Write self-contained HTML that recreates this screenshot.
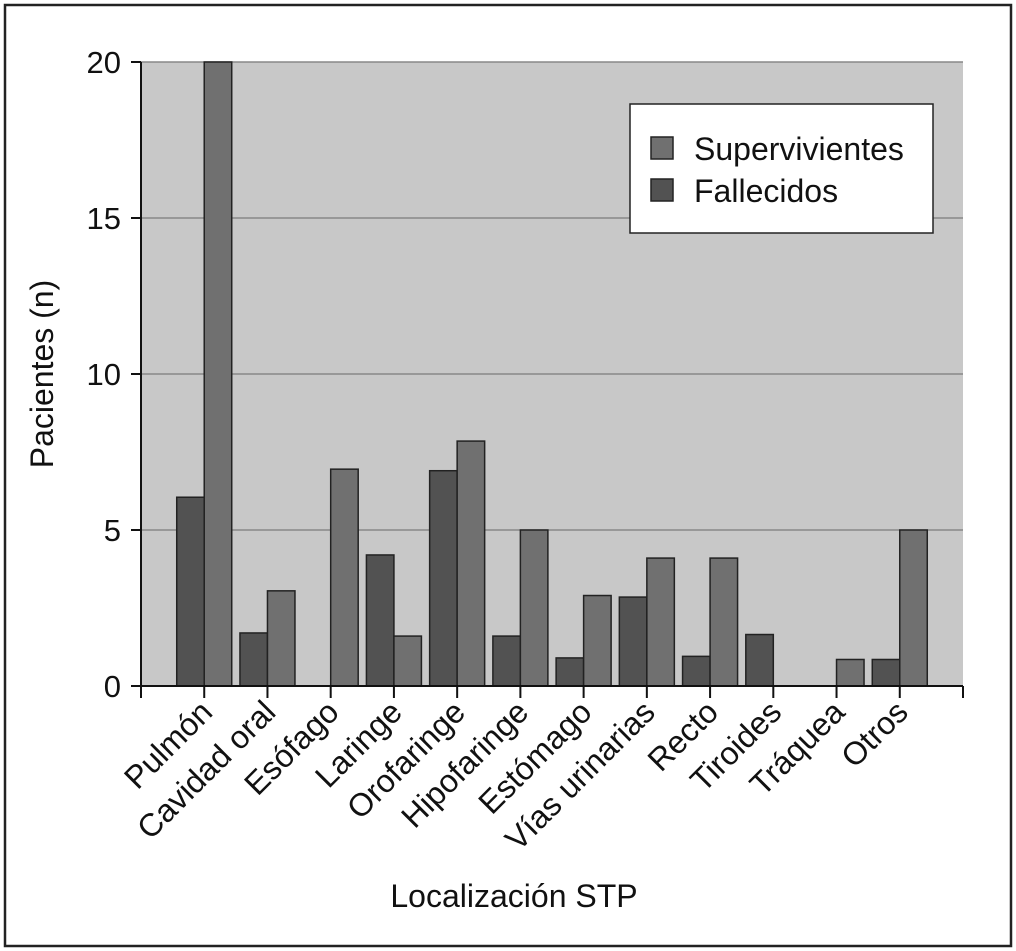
<!DOCTYPE html>
<html><head><meta charset="utf-8"><style>
html,body{margin:0;padding:0;background:#fff;}
svg{display:block;font-family:"Liberation Sans",sans-serif;}
</style></head><body>
<svg id="chart" width="1016" height="951">
<rect x="5" y="5" width="1006" height="941" fill="#fff" stroke="#222" stroke-width="2.5"/>
<rect x="141" y="62" width="822" height="624" fill="#c8c8c8"/>
<g id="grid"></g>
<g id="bars"></g>
<g id="axes"></g>
<text x="53" y="374" font-size="32" text-anchor="middle" transform="rotate(-90 53 374)" fill="#111">Pacientes (n)</text>
<text x="514" y="907" font-size="32" text-anchor="middle" fill="#111">Localización STP</text>
<g>
<rect x="630" y="104" width="303" height="129" fill="#fff" stroke="#222" stroke-width="1.5"/>
<rect x="651" y="137" width="22" height="22" fill="#707070" stroke="#222" stroke-width="1.5"/>
<text x="694" y="160" font-size="32" fill="#111">Supervivientes</text>
<rect x="651" y="179" width="22" height="22" fill="#525252" stroke="#222" stroke-width="1.5"/>
<text x="694" y="202" font-size="32" fill="#111">Fallecidos</text>
</g>
</svg>
<script>
const categories=["Pulmón","Cavidad oral","Esófago","Laringe","Orofaringe","Hipofaringe","Estómago","Vías urinarias","Recto","Tiroides","Tráquea","Otros"];
const fallecidos=[6.05,1.7,0,4.2,6.9,1.6,0.9,2.85,0.95,1.65,0,0.85];
const supervivientes=[20,3.05,6.95,1.6,7.85,5,2.9,4.1,4.1,0,0.85,5];
const yTicks=[0,5,10,15,20];
const NS="http://www.w3.org/2000/svg";
const x0=141,x1=963,yTop=62,yBot=686,yMax=20,slots=13;
const slotW=(x1-x0)/slots;
function y(v){return yBot-(v/yMax)*(yBot-yTop);}
function xc(i){return x0+slotW*(i+1);}
function mk(t,a,parent){const e=document.createElementNS(NS,t);for(const k in a)e.setAttribute(k,a[k]);parent.appendChild(e);return e;}
const grid=document.getElementById('grid'),bars=document.getElementById('bars'),axes=document.getElementById('axes');
yTicks.forEach(v=>{
 if(v>0){const g=mk('line',{x1:x0,x2:x1,y1:y(v),y2:y(v),stroke:'#888','stroke-width':1.5},grid);
 
 }
 const t=mk('line',{x1:x0-10,x2:x0,y1:y(v),y2:y(v),stroke:'#111','stroke-width':2},axes);
 
 
 const l=mk('text',{x:x0-20,y:y(v)+11,'font-size':31,'text-anchor':'end',fill:'#111'},axes);l.textContent=v;
 
 
});
const bw=27.5;
categories.forEach((c,i)=>{
 const cx=xc(i);
 if(fallecidos[i]>0){const r=mk('rect',{x:cx-bw,y:y(fallecidos[i]),width:bw,height:yBot-y(fallecidos[i]),fill:'#525252',stroke:'#222','stroke-width':1.5},bars);
 
 }
 if(supervivientes[i]>0){const r=mk('rect',{x:cx,y:y(supervivientes[i]),width:bw,height:yBot-y(supervivientes[i]),fill:'#707070',stroke:'#222','stroke-width':1.5},bars);
 
 }
 const t=mk('line',{x1:cx,x2:cx,y1:yBot,y2:yBot+12,stroke:'#111','stroke-width':2},axes);
 
 
 const l=mk('text',{x:cx+10,y:yBot+28,'font-size':32,'text-anchor':'end',fill:'#111',transform:`rotate(-45 ${cx+10} ${yBot+28})`},axes);l.textContent=c;
 
 
});
[x0,x1].forEach(xx=>{const t=mk('line',{x1:xx,x2:xx,y1:yBot,y2:yBot+12,stroke:'#111','stroke-width':2},axes);
 
 });
const ya=mk('line',{x1:x0,x2:x0,y1:yTop,y2:yBot,stroke:'#111','stroke-width':2},axes);


const xa=mk('line',{x1:x0,x2:x1,y1:yBot,y2:yBot,stroke:'#111','stroke-width':2},axes);


</script>
</body></html>
